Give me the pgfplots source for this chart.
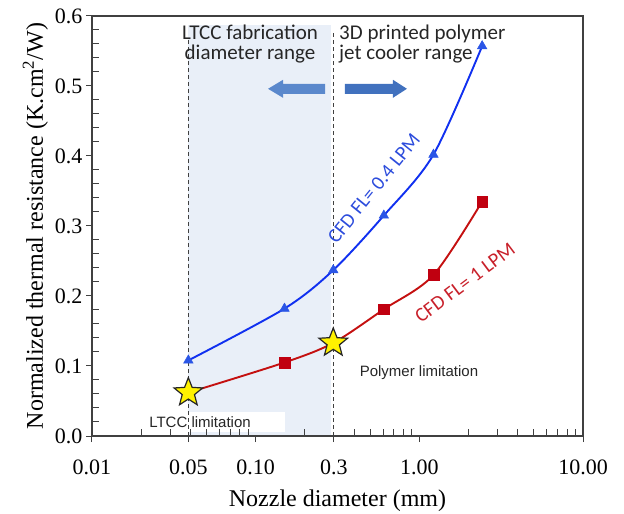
\documentclass[border=0pt]{standalone}
\usepackage{fontspec}
\setmainfont{Liberation Serif}
\newfontfamily\calibri{Carlito}
\newfontfamily\arial{Liberation Sans}
\usepackage{pgfplots}
\pgfplotsset{compat=1.18}
\definecolor{shadeblue}{HTML}{E9EFF8}
\definecolor{lineblue}{HTML}{1030F0}
\definecolor{markblue}{HTML}{2A55E6}
\definecolor{linered}{HTML}{C41010}
\definecolor{markred}{HTML}{C00010}
\definecolor{txtred}{HTML}{C8202A}
\definecolor{txtblue}{HTML}{2C4CDC}
\definecolor{arrowA}{HTML}{5A88CC}
\definecolor{arrowB}{HTML}{4171BE}
\definecolor{framegray}{HTML}{404040}
\pgfdeclareplotmark{fivestar}{%
  \pgfpathmoveto{\pgfpointpolar{90}{\pgfplotmarksize}}%
  \pgfpathlineto{\pgfpointpolar{126}{0.43\pgfplotmarksize}}%
  \pgfpathlineto{\pgfpointpolar{162}{\pgfplotmarksize}}%
  \pgfpathlineto{\pgfpointpolar{198}{0.43\pgfplotmarksize}}%
  \pgfpathlineto{\pgfpointpolar{234}{\pgfplotmarksize}}%
  \pgfpathlineto{\pgfpointpolar{270}{0.43\pgfplotmarksize}}%
  \pgfpathlineto{\pgfpointpolar{306}{\pgfplotmarksize}}%
  \pgfpathlineto{\pgfpointpolar{342}{0.43\pgfplotmarksize}}%
  \pgfpathlineto{\pgfpointpolar{18}{\pgfplotmarksize}}%
  \pgfpathlineto{\pgfpointpolar{54}{0.43\pgfplotmarksize}}%
  \pgfpathclose
  \pgfusepathqfillstroke
}
\begin{document}
\begin{tikzpicture}
\begin{axis}[
  name=ax,
  width=491pt, height=420pt, scale only axis,
  xmode=log, xmin=0.01, xmax=10, ymin=0, ymax=0.6,
  axis on top,
  xtick={0.01,0.0388,0.1,0.3,1,10},
  xticklabels={0.01,0.05,0.10,0.3,1.00,10.00},
  minor xtick={0.02,0.03,0.04,0.05,0.06,0.07,0.08,0.09,0.2,0.4,0.5,0.6,0.7,0.8,0.9,2,3,4,5,6,7,8,9},
  ytick={0,0.1,0.2,0.3,0.4,0.5,0.6},
  minor y tick num=4,
  tick pos=left,
  tick align=outside,
  major tick length=6pt, minor tick length=7pt,
  minor x tick style={yshift=7pt},
  minor y tick style={xshift=7pt},
  every tick/.style={framegray, line width=1pt},
  axis line style={framegray, line width=1.3pt},
  yticklabel style={/pgf/number format/.cd, fixed, fixed zerofill, precision=1, assume math mode=true},
  ticklabel style={font=\fontsize{22}{24}\selectfont},
  xticklabel style={yshift=-14pt},
  label style={font=\fontsize{24}{26}\selectfont},
  xlabel={Nozzle diameter (mm)},
  xlabel style={at={(axis description cs:0.5,0)}, anchor=center, yshift=-65pt},
  ylabel={Normalized thermal resistance (K.cm\textsuperscript{2}/W)},
  clip=false,
]
% shaded LTCC range
\fill[shadeblue] (axis cs:0.0386,0) rectangle (axis cs:0.288,0.587);
% white label box
\fill[white] (axis cs:0.0212,0.006) rectangle (axis cs:0.151,0.034);
% dashed limits
\draw[framegray, line width=1.2pt, dash pattern=on 4pt off 3pt] (axis cs:0.0388,0) -- (axis cs:0.0388,0.57);
\draw[framegray, line width=1.2pt, dash pattern=on 4pt off 3pt] (axis cs:0.298,0) -- (axis cs:0.298,0.577);
% arrows
\fill[arrowA] (axis cs:0.119,0.496) -- ++(15pt,9pt) -- ++(0pt,-4pt) -- ++(42pt,0pt) -- ++(0pt,-10pt) -- ++(-42pt,0pt) -- ++(0pt,-4pt) -- cycle;
\fill[arrowB] (axis cs:0.84,0.496) -- ++(-14pt,9pt) -- ++(0pt,-4pt) -- ++(-48pt,0pt) -- ++(0pt,-10pt) -- ++(48pt,0pt) -- ++(0pt,-4pt) -- cycle;
% data
\addplot[lineblue, line width=1.9pt, smooth, mark=triangle*, mark size=5.5pt, mark options={fill=markblue, draw=markblue, line width=0.5pt}]
  coordinates {(0.0388,0.108) (0.150,0.182) (0.298,0.237) (0.607,0.315) (1.22,0.402) (2.42,0.557)};
\addplot[linered, line width=1.9pt, smooth, mark=square*, mark size=5.3pt, mark options={fill=markred, draw=markred, line width=0.5pt}]
  coordinates {(0.0388,0.062) (0.150,0.105) (0.298,0.133) (0.607,0.181) (1.22,0.230) (2.42,0.335)};
\addplot[only marks, mark=fivestar, mark size=15pt, mark options={fill=yellow, draw=black!85, line width=1.2pt}]
  coordinates {(0.0388,0.062) (0.298,0.133)};
% texts
\node[font=\calibri\fontsize{21}{19.5}\selectfont, align=center, text=black!85] at (axis cs:0.0923,0.56) {LTCC fabrication\\diameter range};
\node[font=\calibri\fontsize{21}{19.5}\selectfont, align=left, anchor=west, text=black!85, inner sep=0pt] at (axis cs:0.323,0.56) {3D printed polymer\\jet cooler range};
\node[font=\calibri\fontsize{20}{22}\selectfont, text=txtblue, rotate=51] at (axis cs:0.528,0.354) {CFD FL= 0.4 LPM};
\node[font=\calibri\fontsize{20}{22}\selectfont, text=txtred, rotate=37] at (axis cs:1.90,0.219) {CFD FL= 1 LPM};
\node[font=\arial\fontsize{15}{17}\selectfont, text=black!85] at (axis cs:0.995,0.091) {Polymer limitation};
\node[font=\arial\fontsize{15}{17}\selectfont, text=black!85] at (axis cs:0.0457,0.02) {LTCC limitation};
\end{axis}
\pgfresetboundingbox
\path ([shift={(-92pt,-78pt)}]ax.south west) rectangle ([shift={(41pt,16pt)}]ax.north east);
\end{tikzpicture}
\end{document}
